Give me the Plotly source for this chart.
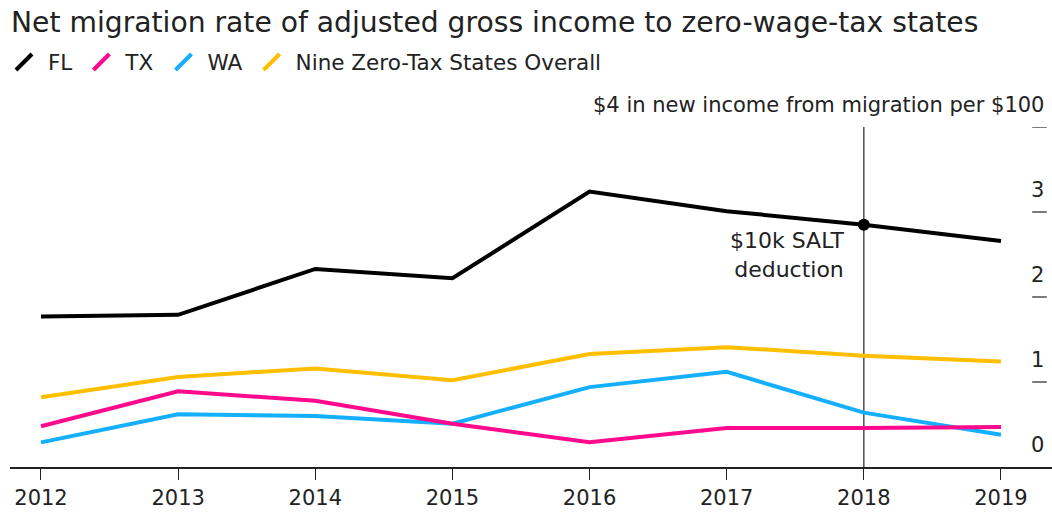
import plotly.graph_objects as go

years = [2012, 2013, 2014, 2015, 2016, 2017, 2018, 2019]
fl = [1.77, 1.79, 2.33, 2.22, 3.24, 3.01, 2.85, 2.66]
tx = [0.48, 0.89, 0.78, 0.51, 0.29, 0.46, 0.46, 0.47]
wa = [0.29, 0.62, 0.60, 0.51, 0.94, 1.12, 0.64, 0.38]
nine = [0.82, 1.06, 1.16, 1.02, 1.33, 1.41, 1.31, 1.24]

series_names = ["FL", "TX", "WA", "Nine Zero-Tax States Overall"]
series_values = [fl, tx, wa, nine]
series_colors = ["#000000", "#ff0a8c", "#14b0ff", "#ffbf00"]

ytick_vals = [0, 1, 2, 3, 4]
ytick_text = ["0", "1", "2", "3", "$4 in new income from migration per $100"]

event_year = 2018
event_label = "$10k SALT<br>deduction"

FONT = "DejaVu Sans, Verdana, sans-serif"
TXT = "#222222"

fig = go.Figure()

# data lines (drawn in reverse so FL is on top)
for name, vals, col in reversed(list(zip(series_names, series_values, series_colors))):
    fig.add_trace(go.Scatter(x=years, y=vals, mode="lines", name=name,
                             line=dict(color=col, width=4), showlegend=False,
                             hoverinfo="x+y+name"))

# legend entries with diagonal slash symbols
for name, col in zip(series_names, series_colors):
    fig.add_trace(go.Scatter(x=[None], y=[None], mode="markers", name=name,
                             marker=dict(symbol="line-ne-open", size=16, color=col,
                                         line=dict(color=col, width=4)),
                             showlegend=True))

# event marker on FL
idx = years.index(event_year)
fig.add_trace(go.Scatter(x=[event_year], y=[fl[idx]], mode="markers",
                         marker=dict(color="#000000", size=12), showlegend=False,
                         hoverinfo="skip"))

# vertical event line
fig.add_shape(type="line", x0=event_year, x1=event_year, y0=0, y1=ytick_vals[-1],
              xref="x", yref="y", line=dict(color="#333333", width=1.3), layer="below")

# right side y tick marks and labels
for v, t in zip(ytick_vals, ytick_text):
    if v != 0:
        fig.add_shape(type="line", x0=0.981, x1=0.995, y0=v, y1=v,
                      xref="paper", yref="y", line=dict(color="#333333", width=1.3))
    fig.add_annotation(x=0.994, y=v, xref="paper", yref="y", text=t,
                       showarrow=False, xanchor="right", yanchor="bottom",
                       yshift=8, font=dict(family=FONT, size=21, color=TXT))

fig.add_annotation(x=event_year, y=fl[idx], xref="x", yref="y", text=event_label,
                   showarrow=False, xanchor="right", yanchor="top", align="right",
                   xshift=-18, yshift=-1,
                   font=dict(family=FONT, size=22, color=TXT))

fig.update_layout(
    width=1052, height=515,
    margin=dict(l=10, r=0, t=127, b=48),
    paper_bgcolor="white", plot_bgcolor="white",
    title=dict(text="Net migration rate of adjusted gross income to zero-wage-tax states",
               x=0.0105, xref="container", xanchor="left", y=0.9573, yref="container",
               yanchor="middle",
               font=dict(family=FONT, size=28.2, color=TXT), pad=dict(l=0)),
    legend=dict(orientation="h", x=0, xref="container", xanchor="left",
                y=0.8796, yref="container", yanchor="middle",
                font=dict(family=FONT, size=21.5, color=TXT),
                itemwidth=38, tracegroupgap=0, bgcolor="rgba(0,0,0,0)"),
    showlegend=True,
    xaxis=dict(range=[2011.774, 2019.372], tickvals=years, ticktext=[str(y) for y in years],
               showgrid=False, zeroline=False, showline=True, linecolor="#222222",
               linewidth=1.5, ticks="outside", ticklen=11, tickwidth=1.3,
               tickcolor="#222222", fixedrange=True,
               tickfont=dict(family=FONT, size=21, color=TXT)),
    yaxis=dict(range=[0, 4], showgrid=False, zeroline=False, showticklabels=False,
               showline=False, fixedrange=True),
)

fig.write_html("out.html", config={"displayModeBar": False},
               post_script="document.body.style.margin='0';document.body.style.overflow='hidden';")
